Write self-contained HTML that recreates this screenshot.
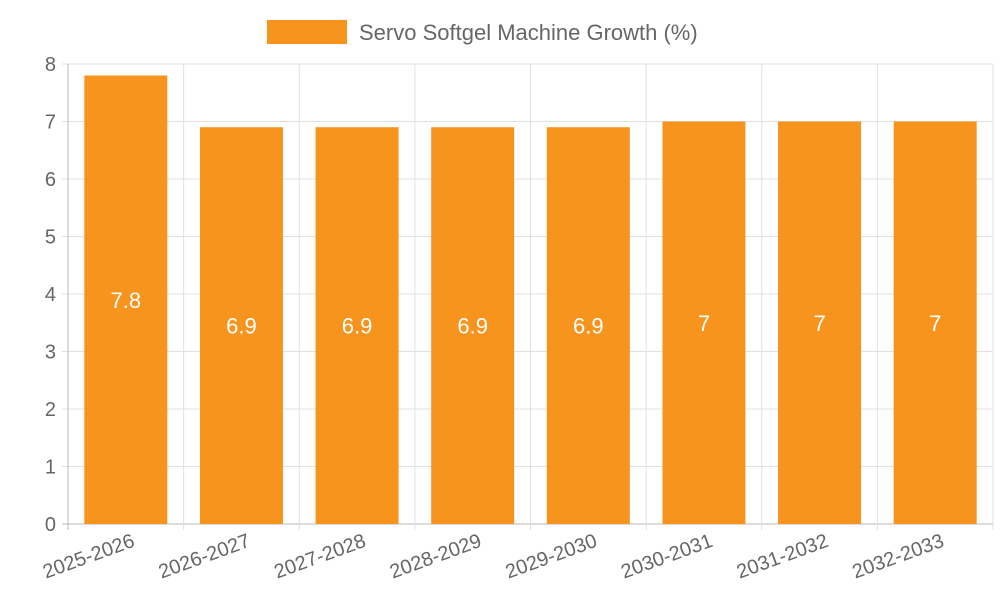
<!DOCTYPE html>
<html><head><meta charset="utf-8"><style>
html,body{margin:0;padding:0;background:#fff;}
svg{display:block;font-family:"Liberation Sans",sans-serif;}
</style></head><body>
<svg id="chart" width="1000" height="600" viewBox="0 0 1000 600" xmlns="http://www.w3.org/2000/svg">
<g id="legend">
<rect x="267" y="20" width="80" height="24" fill="#f7941d"/>
<text x="359" y="40" font-size="22" fill="#666">Servo Softgel Machine Growth (%)</text>
</g>
<g id="grid"></g>
<g id="bars"></g>
<g id="axes"></g>
</svg>
<script>
const categories=["2025-2026","2026-2027","2027-2028","2028-2029","2029-2030","2030-2031","2031-2032","2032-2033"];
const values=[7.8,6.9,6.9,6.9,6.9,7,7,7];
const yTicks=[0,1,2,3,4,5,6,7,8];
const NS="http://www.w3.org/2000/svg";
const L=68,R=993,T=64,B=524,yMax=8;
const n=categories.length,bw=(R-L)/n;
const y=v=>B-(v/yMax)*(B-T);
const x=i=>L+i*bw;
function mk(tag,attrs,parent){const e=document.createElementNS(NS,tag);for(const k in attrs)e.setAttribute(k,attrs[k]);parent.appendChild(e);return e;}
const grid=document.getElementById('grid'),bars=document.getElementById('bars'),axes=document.getElementById('axes');
yTicks.forEach(t=>{
 const g=mk('line',{x1:L-6,x2:R,y1:y(t),y2:y(t),stroke:t===0?'#bbb':'#e0e0e0','stroke-width':1},grid);
 
 
 const lb=mk('text',{x:L-12,y:y(t)+7,'text-anchor':'end','font-size':20,fill:'#666'},axes);
 lb.textContent=t;
 
 
});
for(let i=0;i<=n;i++){
 const g=mk('line',{x1:x(i),x2:x(i),y1:T,y2:B+6,stroke:i===0?'#bbb':'#e0e0e0','stroke-width':1},grid);
 
 
}
categories.forEach((c,i)=>{
 const cx=x(i)+bw/2,w=83;
 const r=mk('rect',{x:cx-w/2,y:y(values[i]),width:w,height:B-y(values[i]),fill:'#f7941d'},bars);
 
 
 const v=mk('text',{x:cx,y:(y(values[i])+B)/2+8,'text-anchor':'middle','font-size':22,fill:'#fff'},bars);
 v.textContent=values[i];
 
 
 const lb=mk('text',{x:cx+10,y:B+22,'text-anchor':'end','font-size':20,fill:'#666',transform:`rotate(-20 ${cx+10} ${B+22})`},axes);
 lb.textContent=c;
 
 
});
</script>
</body></html>
